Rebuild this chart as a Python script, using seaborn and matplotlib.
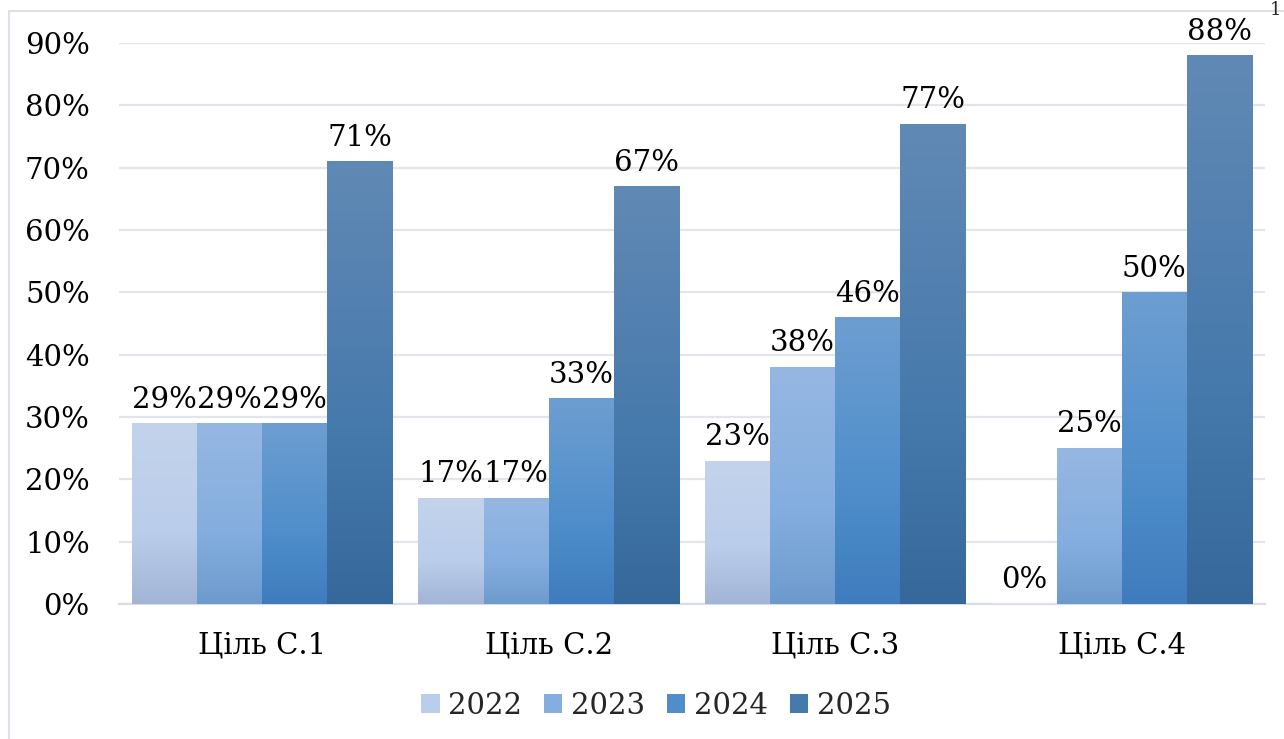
import numpy as np
import pandas as pd
import matplotlib
matplotlib.use("Agg")
import matplotlib.pyplot as plt
from matplotlib.colors import LinearSegmentedColormap
from matplotlib.patches import Rectangle, Patch
import seaborn as sns

# ---- data ----
categories = ["Ціль С.1", "Ціль С.2", "Ціль С.3", "Ціль С.4"]
years = ["2022", "2023", "2024", "2025"]
v2022 = [29, 17, 23, 0]
v2023 = [29, 17, 38, 25]
v2024 = [29, 33, 46, 50]
v2025 = [71, 67, 77, 88]
y_ticks = [0, 10, 20, 30, 40, 50, 60, 70, 80, 90]

values = {"2022": v2022, "2023": v2023, "2024": v2024, "2025": v2025}
df = pd.DataFrame(
    [(c, y, values[y][i]) for y in years for i, c in enumerate(categories)],
    columns=["cat", "year", "val"],
)

# gradient stops (bottom, middle, top) per year
grad = {
    "2022": ["#A2B5D6", "#BACDEA", "#C3D3EC"],
    "2023": ["#6D9ACD", "#84AEDF", "#96B7E2"],
    "2024": ["#3E7CBD", "#4F8ECB", "#6D9ED1"],
    "2025": ["#36689C", "#4679AC", "#6189B5"],
}
solid = {y: grad[y][1] for y in years}

sns.set_theme(style="white")
plt.rcParams["font.family"] = ["DejaVu Serif", "DejaVu Sans"]
FS = 21

fig = plt.figure(figsize=(12.84, 7.39), dpi=100)
ax = fig.add_axes([119 / 1284, 1 - 604 / 739, (1265 - 119) / 1284, (604 - 43) / 739])

sns.barplot(data=df, x="cat", y="val", hue="year", hue_order=years,
            order=categories, palette=solid, width=0.91, gap=0,
            saturation=1, ax=ax, legend=False, zorder=3)

ax.set_ylim(0, 90)
ax.set_xlim(-0.5, len(categories) - 0.5)
ax.set_yticks(y_ticks)
ax.set_yticklabels([f"{t}%" for t in y_ticks])
ax.set_xlabel("")
ax.set_ylabel("")
ax.tick_params(axis="y", length=0, pad=21, labelsize=FS, labelcolor="black")
ax.tick_params(axis="x", length=0, pad=20, labelsize=FS, labelcolor="black")
ax.grid(axis="y", color="#E2E6EC", lw=1.6, zorder=0)
ax.set_axisbelow(True)
for s in ["top", "right", "left"]:
    ax.spines[s].set_visible(False)
ax.spines["bottom"].set_color("#D9DEE6")
ax.spines["bottom"].set_linewidth(1.6)

# gradients + labels
for yi, cont in enumerate(ax.containers):
    yr = years[yi]
    cmap = LinearSegmentedColormap.from_list(yr, [(0, grad[yr][0]), (0.4, grad[yr][1]), (1, grad[yr][2])])
    g = np.linspace(0, 1, 256).reshape(-1, 1)
    for bar in cont:
        h = bar.get_height()
        if h <= 0:
            continue
        x0 = bar.get_x()
        w = bar.get_width()
        im = ax.imshow(g, cmap=cmap, origin="lower", aspect="auto",
                       extent=[x0, x0 + w, 0, h], zorder=3, interpolation="bilinear")
        im.set_clip_path(bar)
        bar.set_facecolor("none")
        bar.set_edgecolor("none")
    ax.bar_label(cont, labels=[f"{v:.0f}%" for v in values[yr]], padding=7,
                 fontsize=FS, color="black")

ax.set_ylim(0, 90)
ax.set_xlim(-0.5, len(categories) - 0.5)

# legend
handles = [Patch(facecolor=solid[y], edgecolor="none") for y in years]
fig.legend(handles, years, loc="center", bbox_to_anchor=(656 / 1284, 1 - 706 / 739),
           ncol=4, frameon=False, fontsize=FS, handlelength=0.62, handleheight=0.62,
           handletextpad=0.3, columnspacing=0.75)

# chart frame and page number at the top-right corner
fig.patches.append(Rectangle((9 / 1284, -0.1), 1.2, 1 - 11 / 739 + 0.1,
                             transform=fig.transFigure, fill=False,
                             edgecolor="#DCE1E8", lw=1.5))
fig.text(1276 / 1284, 0.999, "1", ha="center", va="top", fontsize=13)

fig.savefig("out.png", dpi=100)
